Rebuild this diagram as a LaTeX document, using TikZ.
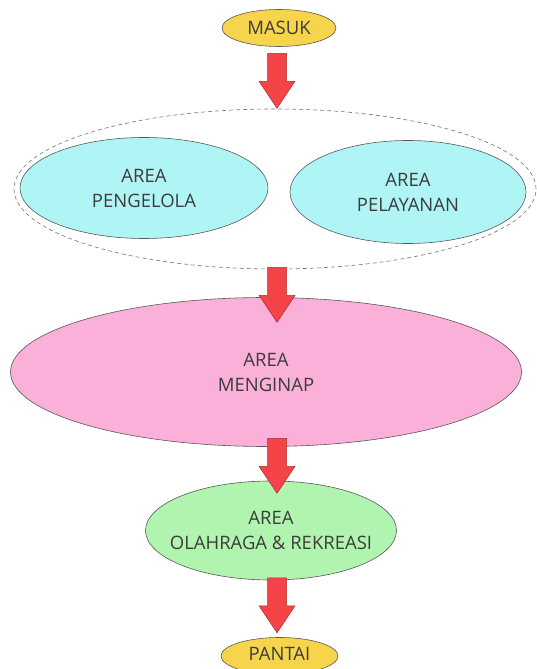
\documentclass[tikz,border=0pt]{standalone}
\usepackage{fontspec}
\setmainfont{Open Sans}
\usetikzlibrary{shapes.geometric, calc}

\definecolor{kuning}{HTML}{F6D44B}
\definecolor{biru}{HTML}{B0F5F6}
\definecolor{merahmuda}{HTML}{FAB0D8}
\definecolor{hijau}{HTML}{B1F4AF}
\definecolor{merah}{HTML}{F44448}
\definecolor{teks}{HTML}{3C3C3C}

% block arrow pointing down, top of the shaft at #1
\newcommand{\blockarrow}[1]{%
  \draw[panah] ($(#1)+(-9.5,0)$) -- ($(#1)+(-9.5,-28)$) -- ($(#1)+(-18,-28)$) -- ($(#1)+(0,-55)$)
    -- ($(#1)+(18,-28)$) -- ($(#1)+(9.5,-28)$) -- ($(#1)+(9.5,0)$) -- cycle;}

\begin{document}
\begin{tikzpicture}[x=1pt, y=1pt]

		\tikzstyle{isi}=[text=teks, inner sep=0pt, align=center, font=\fontsize{18.5}{25}\selectfont]
		\tikzstyle{area}=[ellipse, draw=black!65, line width=0.6pt, inner sep=0pt]
		\tikzstyle{pintu}=[area, fill=kuning, minimum width=114pt, minimum height=37pt]
		\tikzstyle{zona}=[ellipse, draw=black!55, line width=0.6pt, dash pattern=on 4pt off 3pt, minimum width=522pt, minimum height=160pt]
		\tikzstyle{panah}=[fill=merah, draw=merah!70!black, line width=0.5pt, line join=miter]

		\useasboundingbox (0,0) rectangle (536,669);

		\node[pintu, label={[isi]center:MASUK}] (masuk) at (279,641) {};
		\node[zona] (zona) at (275,480) {};
		\node[area, fill=biru, minimum width=248pt, minimum height=101pt, label={[isi]center:{AREA\\PENGELOLA}}] (pengelola) at (144,481) {};
		\node[area, fill=biru, minimum width=236pt, minimum height=103pt, label={[isi]center:{AREA\\PELAYANAN}}] (pelayanan) at (408,477) {};
		\node[area, fill=merahmuda, minimum width=511pt, minimum height=149pt, label={[isi]center:{AREA\\MENGINAP}}] (menginap) at (266,297) {};
		\node[area, fill=hijau, minimum width=251pt, minimum height=99pt, label={[isi]center:{AREA\\OLAHRAGA \& REKREASI}}] (olahraga) at (271,138.5) {};
		\node[pintu, minimum width=117pt, label={[isi, yshift=2.5pt]center:PANTAI}] (pantai) at (279.5,13) {};

		% Alur
		\coordinate (p1) at ($(masuk.south)+(-2,-6.5)$);
		\coordinate (p2) at ($(zona.south)+(2,2)$);
		\coordinate (p3) at ($(menginap.south)+(11,8.5)$);
		\coordinate (p4) at ($(olahraga.south)+(6,2.5)$);
		\blockarrow{p1}
		\blockarrow{p2}
		\blockarrow{p3}
		\blockarrow{p4}

\end{tikzpicture}
\end{document}
